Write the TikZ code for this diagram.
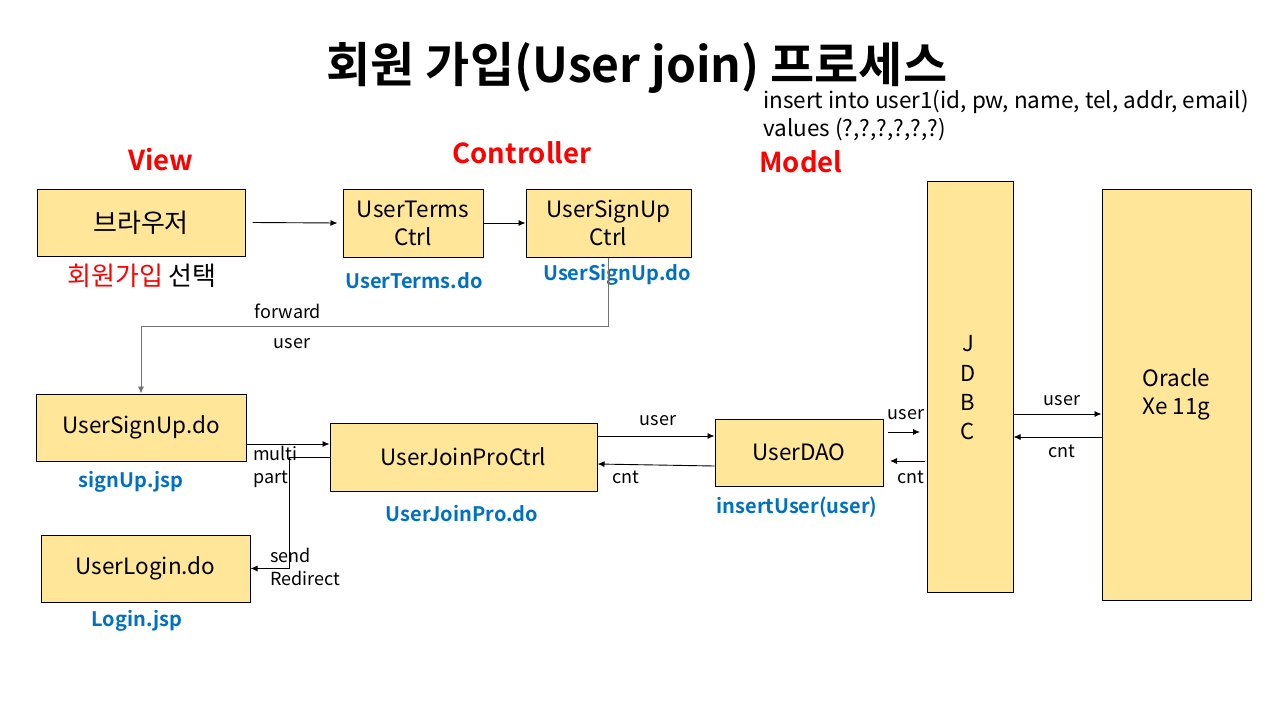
\documentclass[tikz,border=0pt]{standalone}
\usepackage{fontspec}
\setmainfont{Noto Sans CJK KR}[BoldFont={Noto Sans CJK KR Bold}]
\usetikzlibrary{arrows.meta}
\definecolor{boxfill}{HTML}{FFE699}
\definecolor{doblue}{HTML}{0070C0}
\definecolor{tagred}{HTML}{FF0000}
\begin{document}
\begin{tikzpicture}[x=1pt,y=-1pt,
  box/.style={draw, fill=boxfill, line width=1pt, inner sep=0pt, align=center, font=\fontsize{22.5}{28}\selectfont},
  dolbl/.style={text=doblue, font=\bfseries\fontsize{20}{22}\selectfont},
  part/.style={text=tagred, font=\bfseries\fontsize{27.5}{30}\selectfont},
  msg/.style={font=\fontsize{18}{23}\selectfont, inner sep=0pt, align=left},
  arr/.style={-{Latex[length=7pt,width=6pt]}, line width=0.9pt}]
\useasboundingbox (0,0) rectangle (1280,720);
% title and layer names
\node[font=\bfseries\fontsize{48}{52}\selectfont] (title) at (637,68) {회원 가입(User join) 프로세스};
\node[anchor=west, align=left, inner sep=0pt, font=\fontsize{22.5}{28}\selectfont] (sql) at (763,116) {insert into user1(id, pw, name, tel, addr, email)\\values (?,?,?,?,?,?)};
\node[part] (view) at (161,160) {View};
\node[part] (ctrl) at (522,153) {Controller};
\node[part] (model) at (801,162) {Model};
% boxes
\node[box, minimum width=208pt, minimum height=67pt, font=\fontsize{26}{28}\selectfont] (browser) at (141,222.5) {브라우저};
\node[box, minimum width=140pt, minimum height=68pt] (terms) at (413,223) {UserTerms\\Ctrl};
\node[box, minimum width=165pt, minimum height=68pt] (suctrl) at (608.5,223) {UserSignUp\\Ctrl};
\node[box, minimum width=210pt, minimum height=67pt] (signupdo) at (141,427.5) {UserSignUp.do};
\node[box, minimum width=267pt, minimum height=68pt] (joinctrl) at (463.5,457) {UserJoinProCtrl};
\node[box, minimum width=168pt, minimum height=67pt] (dao) at (799,452.5) {UserDAO};
\node[box, minimum width=209pt, minimum height=67pt] (login) at (145.5,568.5) {UserLogin.do};
\node[box, minimum width=86pt, minimum height=411pt] (jdbc) at (970,386.5) {};
\node[box, minimum width=149pt, minimum height=411pt] (oracle) at (1176.5,394.5) {Oracle\\Xe 11g};
\node[font=\fontsize{22}{29.3}\selectfont, align=center] (jdbctxt) at (968,388) {J\\D\\B\\C};
% labels under boxes
\node[font=\fontsize{26}{28}\selectfont] (choose) at (142,276) {\textcolor{tagred}{회원가입} 선택};
\node[dolbl] (termsdo) at (414,281) {UserTerms.do};
\node[dolbl] (sudo) at (617,275) {UserSignUp.do};
\node[dolbl] (jsp) at (131,482) {signUp.jsp};
\node[dolbl] (joindo) at (462,514) {UserJoinPro.do};
\node[dolbl] (insert) at (797,507) {insertUser(user)};
\node[dolbl] (loginjsp) at (137,621) {Login.jsp};
% connectors
\draw[arr] ([xshift=7pt]browser.east) -- ([xshift=-5pt]terms.west);
\draw[arr] (terms.east) -- (suctrl.west);
\draw[arr, draw=gray!90!black] (suctrl.south) -- ++(0,69) -| (signupdo.north);
\node[msg] (fwd) at (288,311) {forward};
\node[msg] (fwduser) at (292,344) {user};
\draw[arr] (signupdo.east |- 0,444) -- (joinctrl.west |- 0,444);
\node[msg, anchor=west] (multi) at (253,467) {multi\\part};
\draw[arr] (joinctrl.west) -- ++(-40,0) |- (login.east);
\node[msg, anchor=west] (redir) at (270,567) {send\\Redirect};
\draw[arr] (joinctrl.east |- 0,436) -- (dao.west |- 0,436);
\draw[arr] (dao.west |- 0,466) -- (joinctrl.east |- 0,464);
\node[msg] (jcuser) at (658,421) {user};
\node[msg] (jccnt) at (626,477) {cnt};
\coordinate (du1) at (888,432);
\coordinate (du2) at (920,432);
\coordinate (dc1) at (925,461);
\coordinate (dc2) at (890,461);
\draw[arr] (du1) -- (du2);
\draw[arr] (dc1) -- (dc2);
\node[msg] (duser) at (906,415) {user};
\node[msg] (dcnt) at (911,477) {cnt};
\draw[arr] (jdbc.east |- 0,414) -- (oracle.west |- 0,414);
\draw[arr] (oracle.west |- 0,437) -- (jdbc.east |- 0,437);
\node[msg] (ouser) at (1062,401) {user};
\node[msg] (ocnt) at (1062,451) {cnt};
\end{tikzpicture}
\end{document}
